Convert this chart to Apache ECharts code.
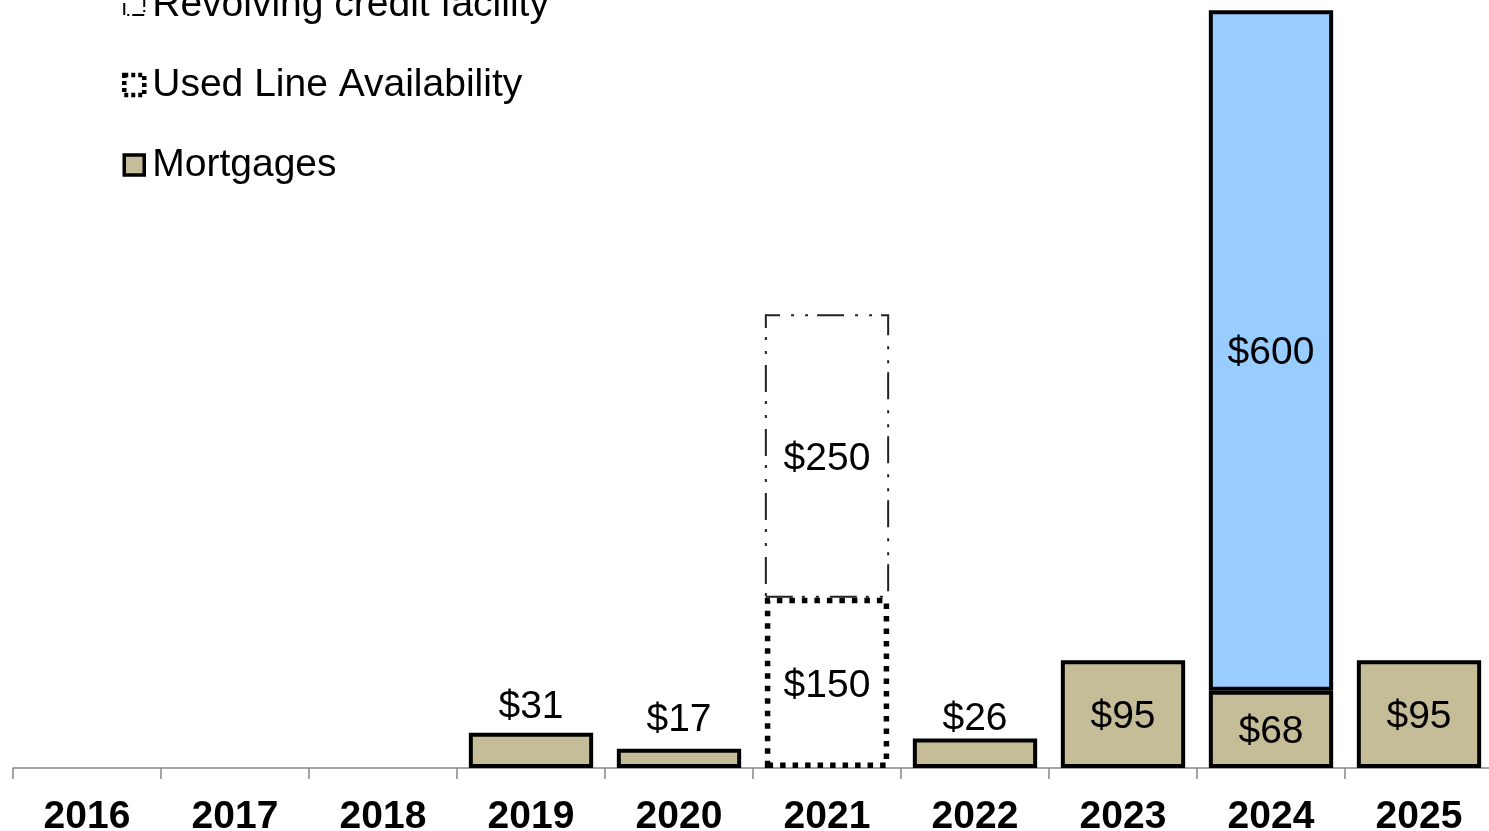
<!DOCTYPE html>
<html>
<head>
<meta charset="utf-8">
<script src="https://cdn.jsdelivr.net/npm/echarts@6/dist/echarts.min.js"></script>
<style>
  html, body { margin: 0; padding: 0; background: #fff; }
  #chart { width: 1489px; height: 831px; }
</style>
</head>
<body>
<div id="chart"></div>
<script>
// Debt maturity schedule ($ millions)
const years = ['2016', '2017', '2018', '2019', '2020', '2021', '2022', '2023', '2024', '2025'];
const mortgages = [null, null, null, 31, 17, null, 26, 95, 68, 95];
const usedLine = [null, null, null, null, null, 150, null, null, null, null];
const revolving = [null, null, null, null, null, 250, null, null, null, null];
const termLoan = [null, null, null, null, null, null, null, null, 600, null];
// Mortgage bars whose labels sit above the bar (too short to hold text)
const mortgageLabelAbove = { '2019': 25, '2020': 28, '2022': 19 };

const FONT = '"Liberation Sans", Arial, sans-serif';
const TAN = '#C4BD97';
const BLUE = '#99CCFF';
const dashDotDot = [27, 9, 3, 11, 3, 11];
const dotted = [5.5, 7];

const money = p => '$' + p.value;

const mortgageData = mortgages.map((v, i) => {
  if (v === null) return null;
  const d = mortgageLabelAbove[years[i]];
  if (d !== undefined) {
    return { value: v, label: { position: 'top', distance: d - 19, offset: [0, 0] } };
  }
  return v;
});

const labelBase = { show: true, formatter: money, color: '#000', fontFamily: FONT, fontSize: 39, offset: [0, 3] };

const option = {
  animation: false,
  backgroundColor: '#fff',
  grid: { left: 13, width: 1480, top: 0, bottom: 63, containLabel: false, outerBoundsMode: 'none' },
  legend: {
    orient: 'vertical',
    left: 122,
    top: -15,
    padding: 0,
    itemWidth: 20,
    itemHeight: 20,
    itemGap: 40,
    icon: 'rect',
    selectedMode: false,
    textStyle: { fontFamily: FONT, fontSize: 39, color: '#000', lineHeight: 40, padding: [0, 0, 0, 3] },
    data: [
      { name: 'Revolving credit facility', itemStyle: { color: '#fff', borderColor: '#000', borderWidth: 2, borderType: [12, 3, 2, 3] } },
      { name: 'Used Line Availability', itemStyle: { color: '#fff', borderColor: '#000', borderWidth: 4.5, borderType: [4, 3] } },
      { name: 'Mortgages', itemStyle: { color: TAN, borderColor: '#000', borderWidth: 3.5 } }
    ]
  },
  xAxis: {
    type: 'category',
    data: years,
    boundaryGap: true,
    axisLine: { show: true, lineStyle: { color: '#888', width: 1.5 } },
    axisTick: { show: true, length: 11, lineStyle: { color: '#888', width: 1.5 } },
    axisLabel: { fontFamily: FONT, fontSize: 39, fontWeight: 'bold', color: '#000', margin: 30 }
  },
  yAxis: {
    type: 'value',
    min: 0,
    max: 677,
    show: false,
    splitLine: { show: false }
  },
  series: [
    {
      name: 'Mortgages',
      type: 'bar',
      stack: 'debt',
      barWidth: '84%',
      data: mortgageData,
      itemStyle: { color: TAN, borderColor: '#000', borderWidth: 4 },
      label: Object.assign({ position: 'inside' }, labelBase)
    },
    {
      name: 'Used Line Availability',
      type: 'bar',
      stack: 'debt',
      barWidth: '84%',
      data: usedLine,
      itemStyle: { color: '#fff', borderColor: '#000', borderWidth: 5.5, borderType: dotted },
      label: Object.assign({ position: 'inside' }, labelBase)
    },
    {
      name: 'Revolving credit facility',
      type: 'bar',
      stack: 'debt',
      barWidth: '84%',
      data: revolving,
      itemStyle: { color: 'rgba(255,255,255,0)', borderColor: '#222', borderWidth: 2, borderType: dashDotDot },
      label: Object.assign({ position: 'inside' }, labelBase)
    },
    {
      name: 'Term Loan',
      type: 'bar',
      stack: 'debt',
      barWidth: '84%',
      data: termLoan,
      itemStyle: { color: BLUE, borderColor: '#000', borderWidth: 4 },
      label: Object.assign({ position: 'inside' }, labelBase)
    }
  ]
};

const chart = echarts.init(document.getElementById('chart'), null, { renderer: 'canvas' });
chart.setOption(option);
</script>
</body>
</html>
